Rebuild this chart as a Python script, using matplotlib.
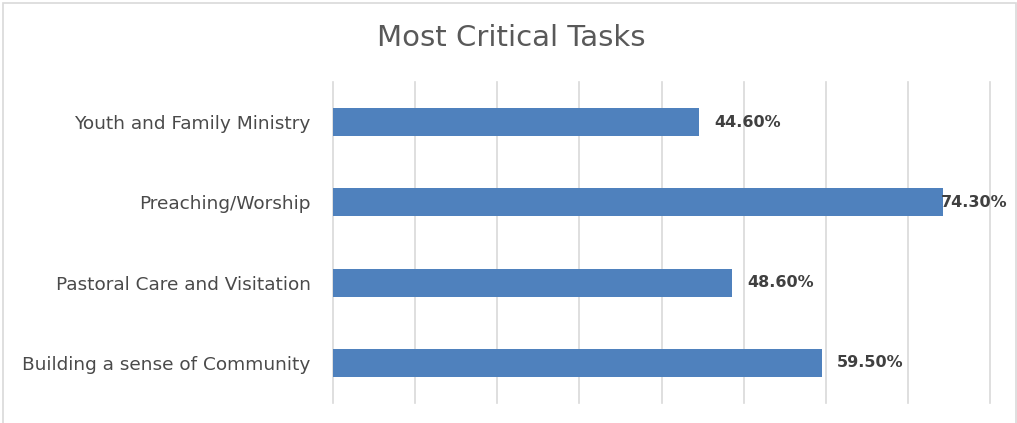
import matplotlib
matplotlib.use("Agg")
import matplotlib.pyplot as plt
from matplotlib.patches import Rectangle

categories = ["Building a sense of Community", "Pastoral Care and Visitation",
              "Preaching/Worship", "Youth and Family Ministry"]
values = [59.5, 48.6, 74.3, 44.6]
labels = ["59.50%", "48.60%", "74.30%", "44.60%"]

BAR = "#4F81BD"
GRID = "#D9D9D9"
TXT = "#595959"

plt.rcParams.update({"font.family": "DejaVu Sans"})

fig = plt.figure(figsize=(10.17, 4.23), dpi=100)
ax = fig.add_axes([333 / 1017, 20 / 423, 657 / 1017, 321 / 423])

y = range(len(categories))
ax.barh(y, values, height=0.35, color=BAR, zorder=3)

# data labels, pushed inside the plot if they would run off the right side
for yi, v, lab in zip(y, values, labels):
    ax.text(min(v + 1.8, 74.0), yi, lab, ha="left", va="center",
            fontsize=11.5, fontweight="bold", color="#404040", zorder=4)

ax.set_xlim(0, 80)
ax.set_ylim(-0.5, 3.5)
ax.set_xticks(range(0, 81, 10))
ax.set_xticklabels([])
ax.set_yticks(list(y))
ax.set_yticklabels(categories, fontsize=13.3, color="#4a4a4a")
ax.tick_params(axis="both", length=0)
ax.tick_params(axis="y", pad=16)
ax.grid(axis="x", color=GRID, lw=1.2, zorder=0)
for gl in ax.get_xgridlines():
    gl.set_clip_on(False)
for s in ax.spines.values():
    s.set_visible(False)

fig.text(511 / 1017, 1 - 38 / 423, "Most Critical Tasks", ha="center",
         va="center", fontsize=21, color=TXT)

fig.patches.append(Rectangle((3 / 1017, -0.1), 1013 / 1017, 1.1 - 3 / 423,
                             transform=fig.transFigure, fill=False,
                             edgecolor=GRID, lw=1.2))

fig.savefig("out.png", dpi=100)
